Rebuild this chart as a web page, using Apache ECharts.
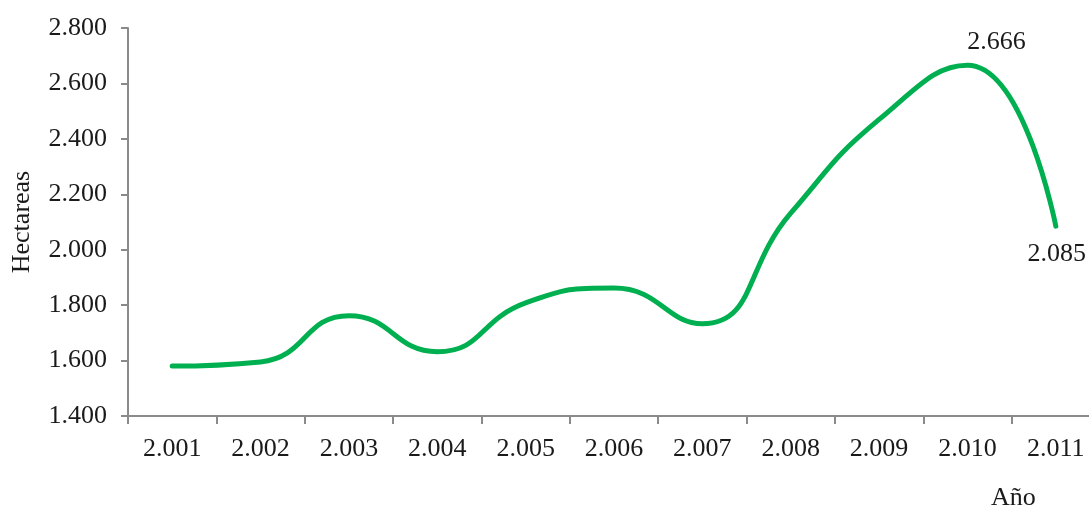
<!DOCTYPE html>
<html>
<head>
<meta charset="utf-8">
<script src="https://cdn.jsdelivr.net/npm/echarts@6/dist/echarts.min.js"></script>
<style>
  html, body { margin: 0; padding: 0; background: #ffffff; overflow: hidden; }
  /* the plot runs a little past the right edge of the window */
  #chart { width: 1100px; height: 510px; }
</style>
</head>
<body>
<div id="chart"></div>
<script>
// Superficie anual (hectáreas), 2001–2011
const years = ['2.001', '2.002', '2.003', '2.004', '2.005', '2.006', '2.007', '2.008', '2.009', '2.010', '2.011'];
const hectares = [1580, 1595, 1762, 1632, 1808, 1862, 1733, 2132, 2470, 2666, 2085];
const labelledYears = ['2.010', '2.011'];
const yAxisTitle = 'Hectareas';
const xAxisTitle = 'Año';

const FONT = '"Liberation Serif", "DejaVu Serif", serif';
const AXIS_COLOR = '#8a8a8a';
const TEXT_COLOR = '#1a1a1a';
const FONT_SIZE = 26;

function thousands(v) {
  return (v / 1000).toFixed(3);
}

const seriesData = hectares.map((v, i) => {
  const item = { value: v };
  const yr = years[i];
  if (labelledYears.indexOf(yr) === 0) {
    item.label = { show: true, position: 'top', offset: [29, -4] };
  } else if (labelledYears.indexOf(yr) === 1) {
    item.label = { show: true, position: 'bottom', offset: [1, 10] };
  }
  return item;
});

const chart = echarts.init(document.getElementById('chart'), null, { renderer: 'canvas' });

chart.setOption({
  backgroundColor: '#ffffff',
  animation: false,
  textStyle: { fontFamily: FONT },
  grid: { left: 128, top: 28, right: 0, bottom: 94, containLabel: false },
  xAxis: {
    type: 'category',
    data: years,
    boundaryGap: true,
    axisLine: { lineStyle: { color: AXIS_COLOR, width: 2 } },
    axisTick: { show: true, length: 8, alignWithLabel: false, lineStyle: { color: AXIS_COLOR, width: 2 } },
    axisLabel: { color: TEXT_COLOR, fontFamily: FONT, fontSize: FONT_SIZE, margin: 20 },
    splitLine: { show: false }
  },
  yAxis: {
    type: 'value',
    min: 1400,
    max: 2800,
    interval: 200,
    name: yAxisTitle,
    nameLocation: 'middle',
    nameGap: 93,
    nameRotate: 90,
    nameTextStyle: { color: TEXT_COLOR, fontFamily: FONT, fontSize: FONT_SIZE },
    axisLine: { show: true, lineStyle: { color: AXIS_COLOR, width: 2 } },
    axisTick: { show: true, length: 7, lineStyle: { color: AXIS_COLOR, width: 2 } },
    axisLabel: { color: TEXT_COLOR, fontFamily: FONT, fontSize: FONT_SIZE, margin: 21, formatter: thousands },
    splitLine: { show: false }
  },
  graphic: [{
    type: 'text',
    left: 991,
    top: 485,
    style: { text: xAxisTitle, font: FONT_SIZE + 'px ' + FONT, fill: TEXT_COLOR }
  }],
  series: [{
    type: 'line',
    data: seriesData,
    smooth: 0.5,
    symbol: 'circle',
    symbolSize: 1,
    showSymbol: true,
    itemStyle: { color: 'rgba(0,0,0,0)' },
    lineStyle: { color: '#00b050', width: 5, cap: 'round' },
    emphasis: { disabled: true },
    label: {
      show: false,
      color: TEXT_COLOR,
      fontFamily: FONT,
      fontSize: FONT_SIZE,
      formatter: p => thousands(p.value)
    }
  }]
});
</script>
</body>
</html>
